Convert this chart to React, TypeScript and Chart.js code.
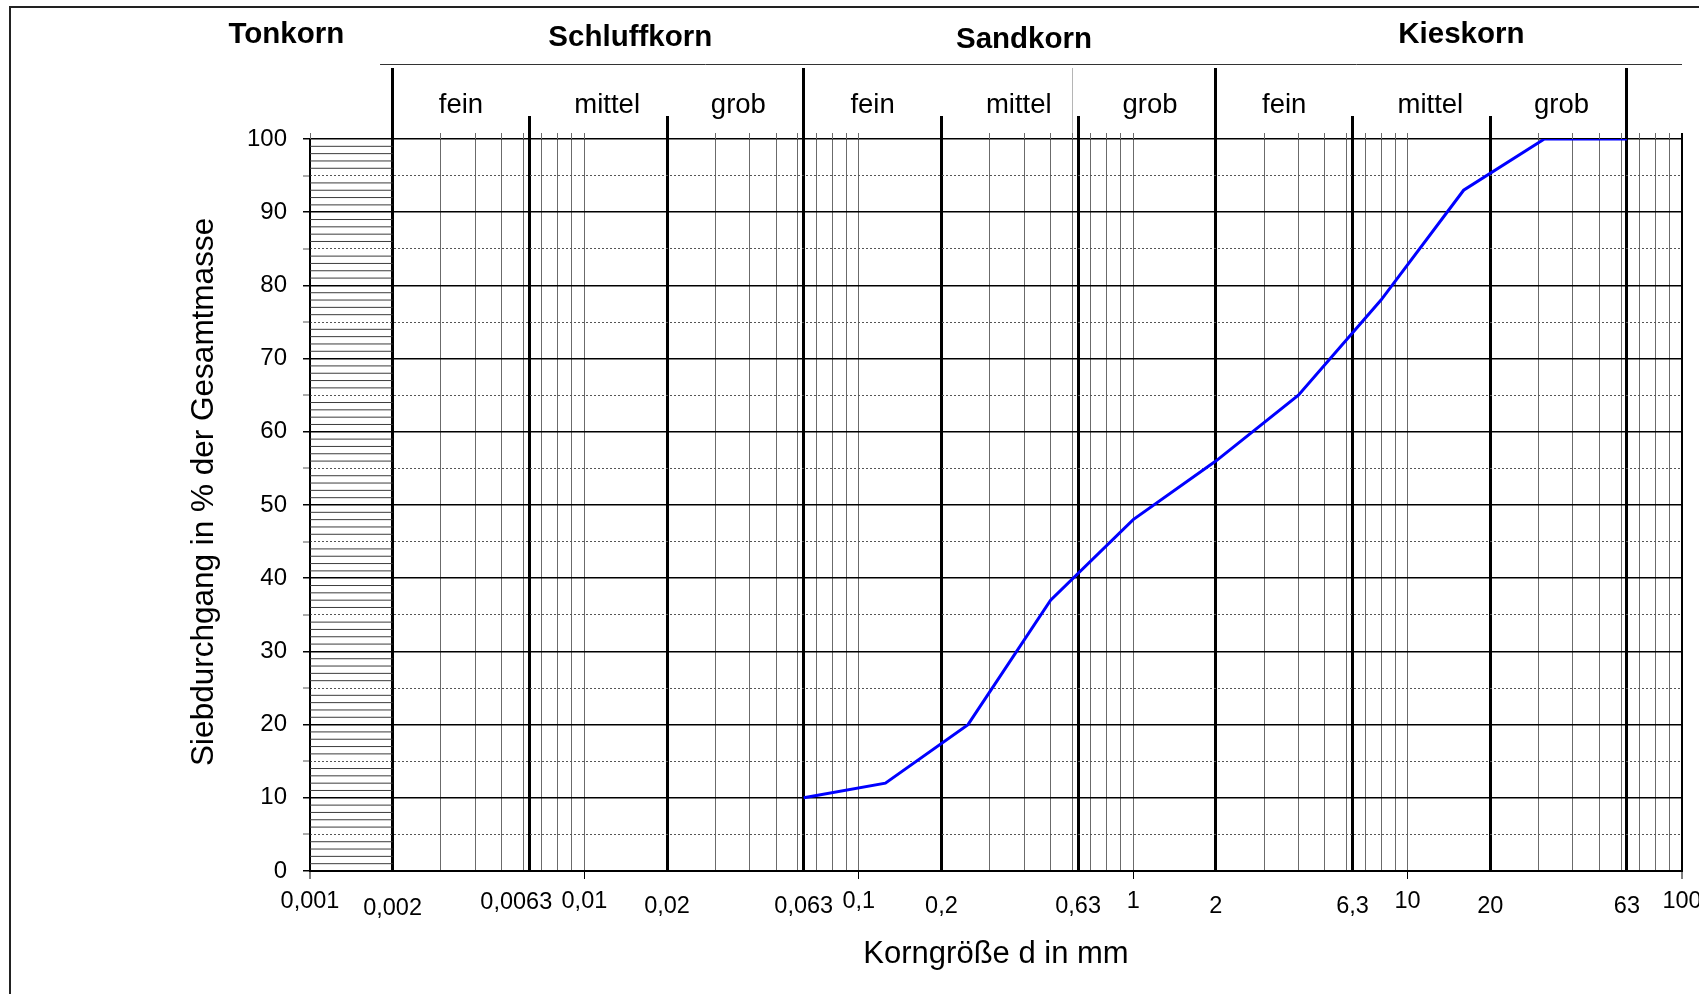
import { useEffect, useRef } from 'react';
import { Chart, registerables } from 'chart.js';

Chart.register(...registerables);

const FONT = "'Liberation Sans', Arial, Helvetica, sans-serif";

// Sieve analysis: mesh size in mm and cumulative passing in %
const sieveSizes = [0.063, 0.125, 0.25, 0.5, 1, 2, 4, 8, 16, 31.5, 63];
const passing = [10, 12, 20, 37, 48, 56, 65, 78, 93, 100, 100];

// Labelled grain sizes on the x axis
const xLabelValues = [0.001, 0.002, 0.0063, 0.01, 0.02, 0.063, 0.1, 0.2, 0.63, 1, 2, 6.3, 10, 20, 63, 100];
const xLabelTexts = ['0,001', '0,002', '0,0063', '0,01', '0,02', '0,063', '0,1', '0,2', '0,63', '1', '2', '6,3', '10', '20', '63', '100'];

// Soil fractions (DIN 4022)
const groupNames = ['Tonkorn', 'Schluffkorn', 'Sandkorn', 'Kieskorn'];
const groupTitleAt = [0.00082, 0.0147, 0.4, 15.7];
const mainBoundaries = [0.002, 0.063, 2, 63];
const subBoundaries = [0.0063, 0.02, 0.2, 0.63, 6.3, 20];
const fractionNames = ['fein', 'mittel', 'grob'];
const clayRange = [0.001, 0.002];

// Decades and multipliers of the log grid paper
const gridDecades = [0.001, 0.01, 0.1, 1, 10];
const gridMultipliers = [1, 2, 3, 4, 5, 6, 7, 8, 9];

const near = (a: number, b: number) => Math.abs(a / b - 1) < 1e-6;
const isDecade = (v: number) => Math.abs(Math.log10(v) - Math.round(Math.log10(v))) < 1e-9;
const isBoundary = (v: number) => [...mainBoundaries, ...subBoundaries].some((b) => near(v, b));

const xGridValues: number[] = (() => {
  const vals: number[] = [clayRange[0], 100, ...mainBoundaries, ...subBoundaries];
  for (const d of gridDecades) {
    for (const m of gridMultipliers) {
      const v = Number((m * d).toPrecision(6));
      if (v > clayRange[1]) vals.push(v);
    }
  }
  const out: number[] = [];
  vals.sort((a, b) => a - b).forEach((v) => {
    if (!out.some((o) => near(o, v))) out.push(v);
  });
  return out;
})();

const dottedMarks = [5, 15, 25, 35, 45, 55, 65, 75, 85, 95];

const crisp = (p: number, w: number) => Math.round(p - w / 2) + w / 2;

const gridPaperPlugin = {
  id: 'gridPaper',
  beforeDatasetsDraw(chart: any) {
    const { ctx, scales } = chart;
    const x = scales.x;
    const y = scales.y;
    const xl = x.getPixelForValue(clayRange[0]);
    const xr = x.getPixelForValue(clayRange[1]);
    ctx.save();
    ctx.strokeStyle = '#3c3c3c';
    ctx.lineWidth = 1;
    for (let v = 1; v < 100; v++) {
      if (v % 5 === 0) continue;
      const py = y.getPixelForValue(v);
      ctx.beginPath();
      ctx.moveTo(xl, py);
      ctx.lineTo(xr, py);
      ctx.stroke();
    }
    ctx.restore();
  },
  afterDraw(chart: any) {
    const { ctx, chartArea: ca, scales } = chart;
    const x = scales.x;
    const px = (v: number) => x.getPixelForValue(v);
    const line = (x1: number, y1: number, x2: number, y2: number) => {
      ctx.beginPath();
      ctx.moveTo(x1, y1);
      ctx.lineTo(x2, y2);
      ctx.stroke();
    };
    ctx.save();

    // outer frame
    ctx.strokeStyle = '#222';
    ctx.lineWidth = 2;
    ctx.beginPath();
    ctx.moveTo(10, chart.height + 5);
    ctx.lineTo(10, 7);
    ctx.lineTo(chart.width + 5, 7);
    ctx.stroke();

    // rule below the group titles
    ctx.strokeStyle = '#333';
    ctx.lineWidth = 1;
    line(px(0.0018), 64.5, px(100), 64.5);

    // thin grid lines rise a little above the 100 % line
    ctx.strokeStyle = '#6b6b6b';
    for (const v of xGridValues) {
      if (isBoundary(v) || near(v, 100)) continue;
      const p = crisp(px(v), 1);
      line(p, ca.top - 6, p, ca.top);
    }
    ctx.strokeStyle = '#b5b5b5';
    const p06 = crisp(px(0.6), 1);
    line(p06, 68, p06, ca.top - 6);

    ctx.strokeStyle = '#000';
    ctx.lineWidth = 2;
    const p100 = crisp(px(100), 2);
    line(p100, ca.top - 6, p100, ca.top);

    // fraction boundaries reach into the header
    ctx.lineWidth = 3;
    for (const v of mainBoundaries) {
      const p = crisp(px(v), 3);
      line(p, 68, p, ca.top);
    }
    for (const v of subBoundaries) {
      const p = crisp(px(v), 3);
      line(p, 116, p, ca.top);
    }

    // group titles
    ctx.fillStyle = '#000';
    ctx.textAlign = 'center';
    ctx.textBaseline = 'middle';
    ctx.font = `bold 29.5px ${FONT}`;
    const titleY = [35, 38, 40, 35];
    groupNames.forEach((name, i) => ctx.fillText(name, px(groupTitleAt[i]), titleY[i]));

    // fein / mittel / grob in each group
    ctx.font = `27.5px ${FONT}`;
    const edges = [...mainBoundaries, ...subBoundaries].sort((a, b) => a - b);
    const nudge = [0, 9, 3];
    for (let i = 0; i < edges.length - 1; i++) {
      const mid = Math.sqrt(edges[i] * edges[i + 1]);
      ctx.fillText(fractionNames[i % 3], px(mid) + nudge[i % 3], 105);
    }
    ctx.restore();
  },
};

export default function App() {
  const ref = useRef<HTMLCanvasElement>(null);

  useEffect(() => {
    const canvas = ref.current;
    if (!canvas) return;

    const chart = new Chart(canvas, {
      type: 'line',
      data: {
        datasets: [
          {
            label: 'Sieblinie',
            data: sieveSizes.map((d, i) => ({ x: d, y: passing[i] })),
            borderColor: '#0000ff',
            borderWidth: 3,
            pointRadius: 0,
            fill: false,
            tension: 0,
          },
        ],
      },
      options: {
        responsive: false,
        maintainAspectRatio: false,
        animation: false,
        devicePixelRatio: 1,
        layout: { padding: { left: 0, top: 139, right: 17, bottom: 0 } },
        plugins: {
          legend: { display: false },
          tooltip: { enabled: false },
        },
        scales: {
          x: {
            type: 'logarithmic',
            min: 0.001,
            max: 100,
            afterBuildTicks: (scale: any) => {
              scale.ticks = xGridValues.map((v) => ({ value: v }));
            },
            afterFit: (scale: any) => {
              scale.height = 123;
              scale.paddingLeft = 0;
              scale.paddingRight = 0;
            },
            grid: {
              color: (c: any) => {
                const v = c.tick?.value;
                if (v === undefined) return '#6b6b6b';
                if (isBoundary(v) || near(v, 100) || near(v, 0.001)) return '#000';
                return '#6b6b6b';
              },
              lineWidth: (c: any) => {
                const v = c.tick?.value;
                if (v === undefined) return 1;
                if (isBoundary(v)) return 3;
                if (near(v, 100) || near(v, 0.001)) return 2;
                return 1;
              },
              tickLength: 8,
              tickWidth: 1,
              tickColor: (c: any) => {
                const v = c.tick?.value;
                return v !== undefined && isDecade(v) ? '#000' : 'rgba(0,0,0,0)';
              },
            },
            border: { display: true, color: '#000', width: 2 },
            ticks: {
              autoSkip: false,
              maxRotation: 0,
              minRotation: 0,
              padding: 8,
              color: '#000',
              font: (c: any) => {
                const v = c.tick?.value;
                let lh = 1.7;
                if (v !== undefined) {
                  if (isDecade(v)) lh = 1.23;
                  else if (near(v, 0.0063)) lh = 1.36;
                  else if (near(v, 0.002)) lh = 1.87;
                }
                return { family: FONT, size: 23.5, lineHeight: lh };
              },
              callback: (value: any) => {
                const v = Number(value);
                const i = xLabelValues.findIndex((l) => near(l, v));
                if (i < 0) return '';
                // keep 0,0063 clear of 0,01
                return near(v, 0.0063) ? xLabelTexts[i] + '    ' : xLabelTexts[i];
              },
            },
            title: {
              display: true,
              text: 'Korngröße d in mm',
              color: '#000',
              font: { family: FONT, size: 31, lineHeight: 1.2 },
              padding: { top: 0, bottom: 21 },
            },
          },
          y: {
            min: 0,
            max: 100,
            afterFit: (scale: any) => {
              scale.width = 310;
            },
            ticks: {
              stepSize: 5,
              padding: 16,
              color: '#000',
              font: { family: FONT, size: 24 },
              callback: (value: any) => (Number(value) % 10 === 0 ? String(value) : ''),
            },
            grid: {
              color: '#000',
              lineWidth: (c: any) => (c.tick && c.tick.value % 10 === 0 ? 1.5 : 0),
              tickLength: 7,
              tickWidth: (c: any) => (c.tick && c.tick.value % 10 === 0 ? 1.5 : 1),
              tickColor: (c: any) => (c.tick && c.tick.value % 10 === 0 ? '#000' : '#555'),
            },
            border: { display: true, color: '#000', width: 1.5 },
            title: {
              display: true,
              text: '   Siebdurchgang in % der Gesamtmasse',
              color: '#000',
              font: { family: FONT, size: 31.5, lineHeight: 1.2 },
              padding: { top: 185, bottom: 0 },
            },
          },
          y5: {
            position: 'left',
            min: 0,
            max: 100,
            afterBuildTicks: (scale: any) => {
              scale.ticks = dottedMarks.map((v) => ({ value: v }));
            },
            afterFit: (scale: any) => {
              scale.width = 0;
            },
            ticks: { display: false },
            grid: { drawTicks: false, color: '#555', lineWidth: 1 },
            border: { display: false, dash: [2, 2] },
          },
        },
      } as any,
      plugins: [gridPaperPlugin],
    });

    return () => chart.destroy();
  }, []);

  return (
    <div style={{ position: 'fixed', left: 0, top: 0, width: 1699, height: 994, background: '#fff' }}>
      <canvas ref={ref} width={1699} height={994} style={{ display: 'block', width: 1699, height: 994 }} />
    </div>
  );
}
